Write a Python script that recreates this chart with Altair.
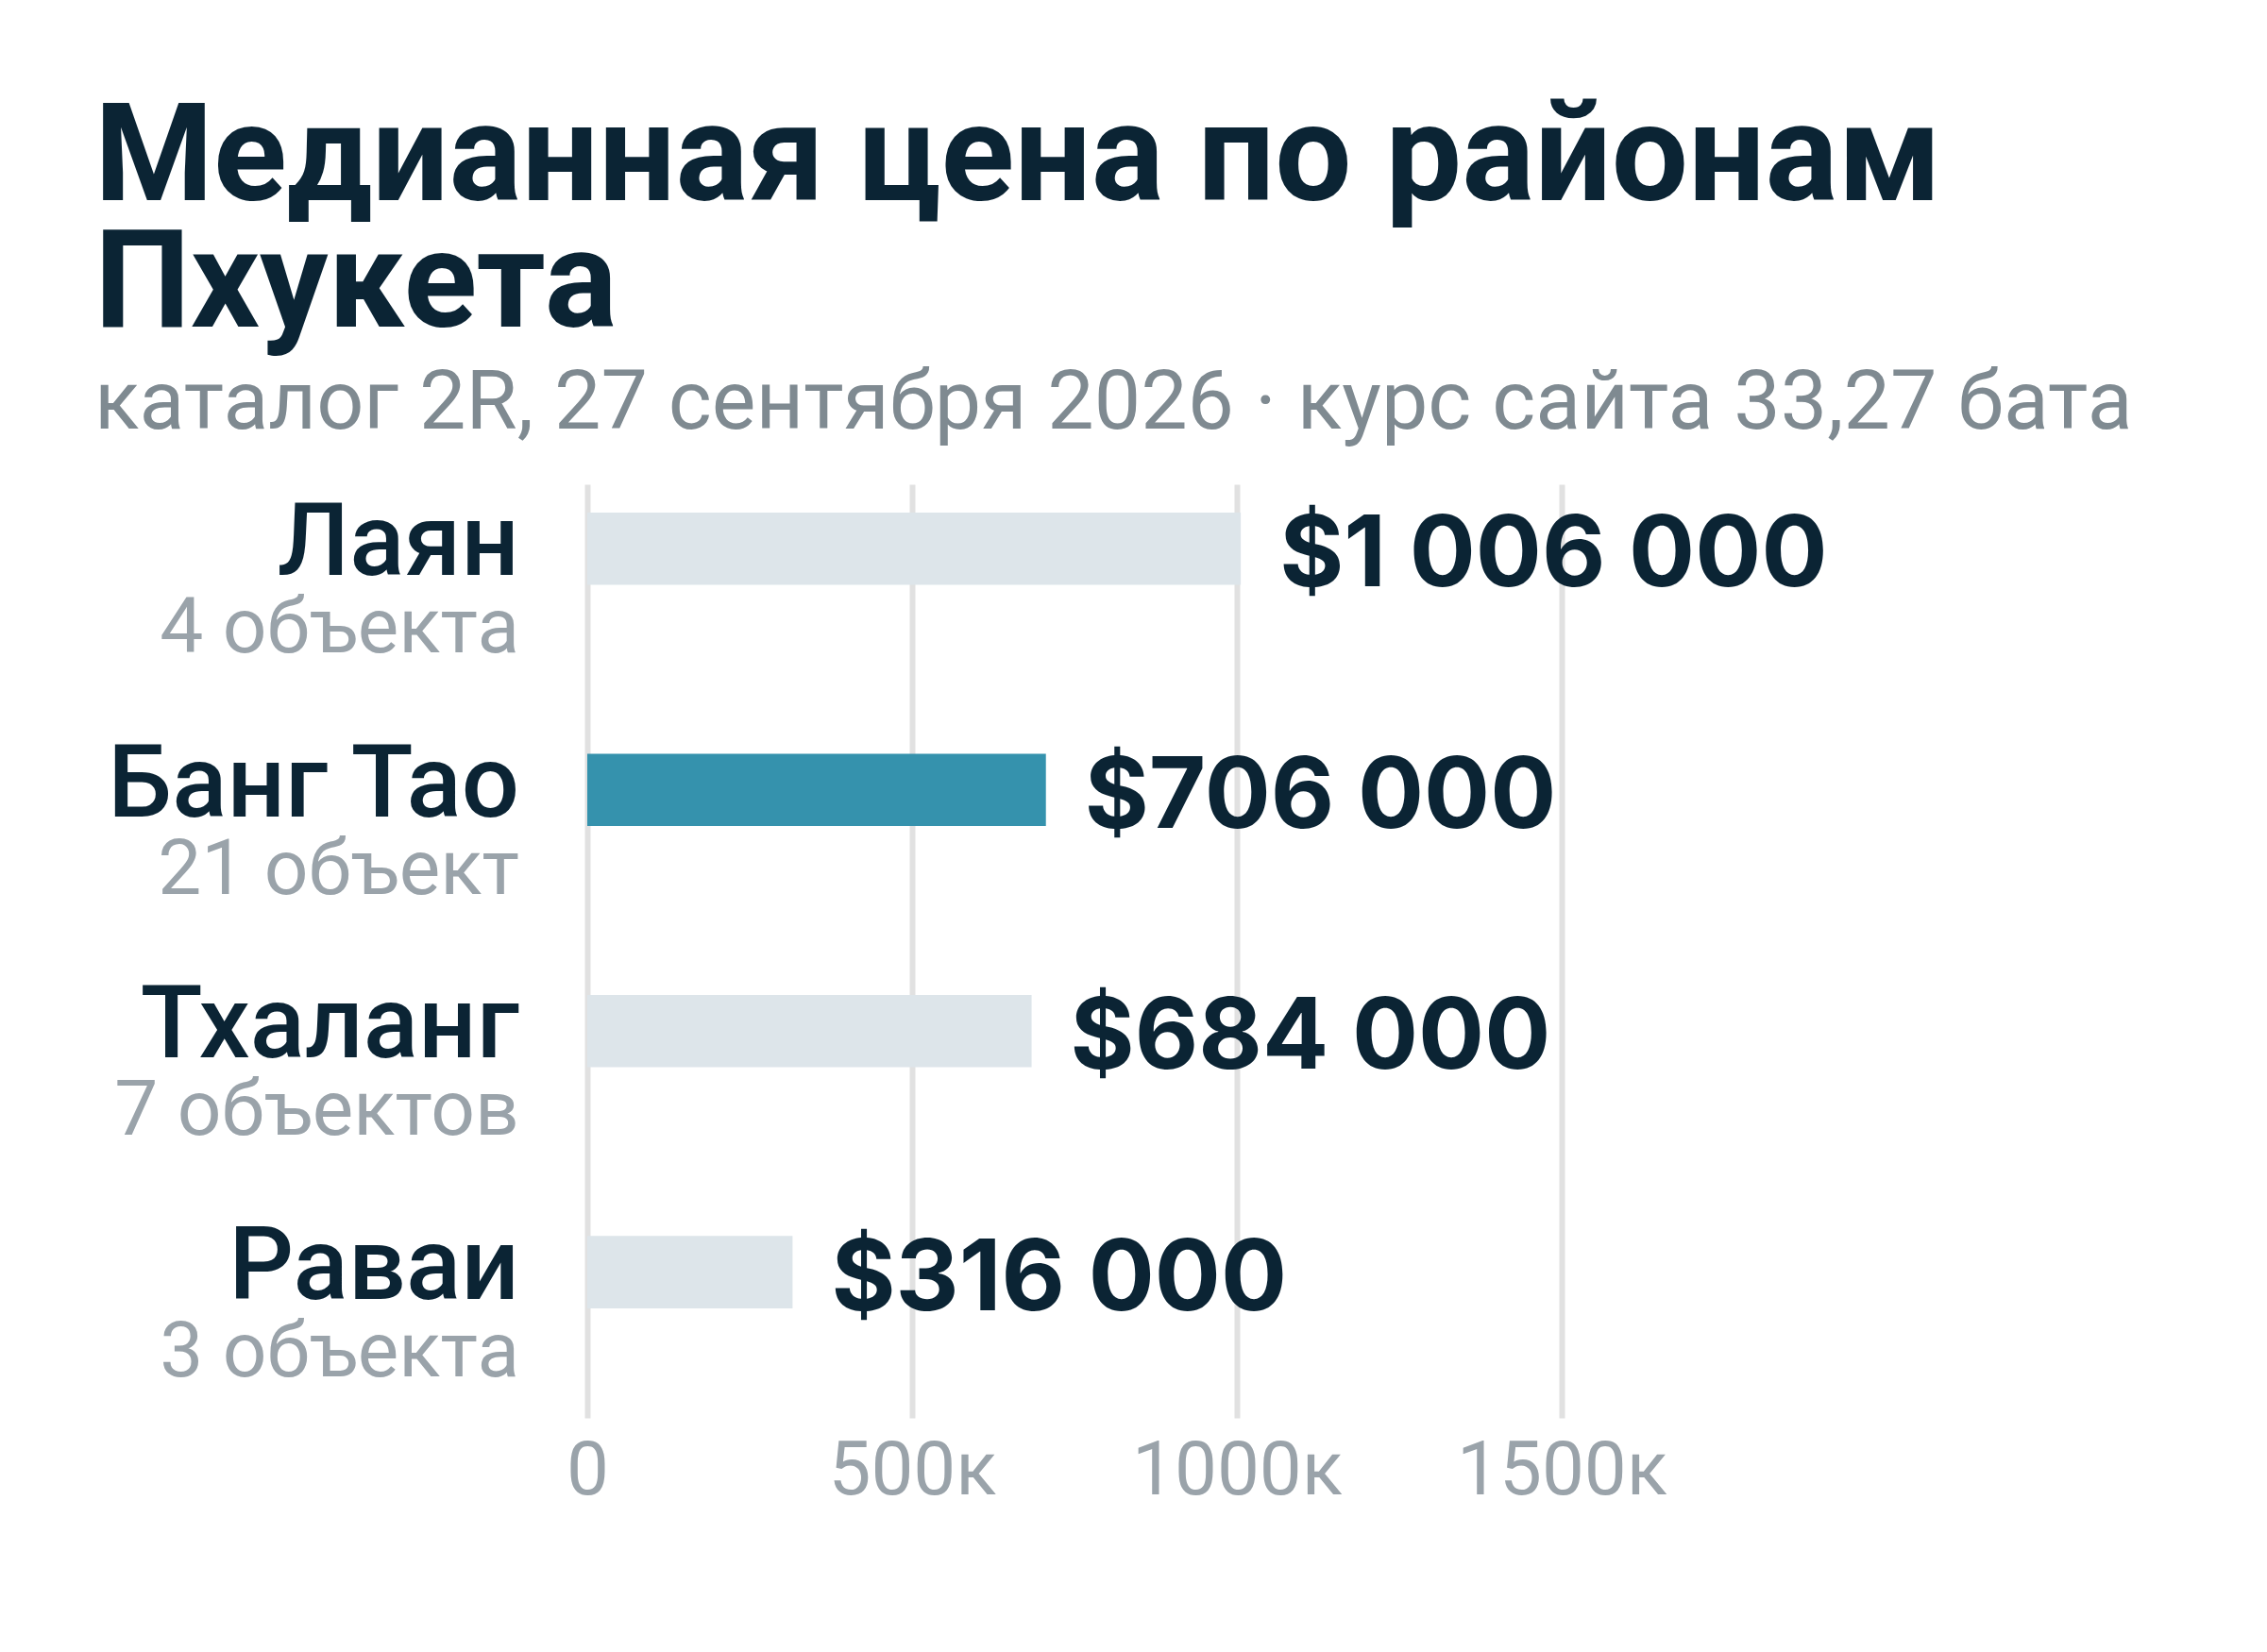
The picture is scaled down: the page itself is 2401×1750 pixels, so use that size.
import altair as alt
import pandas as pd

# --- data ---
districts = ["Лаян", "Банг Тао", "Тхаланг", "Раваи"]
prices = [1006000, 706000, 684000, 316000]
counts = ["4 объекта", "21 объект", "7 объектов", "3 объекта"]
kinds = ["base", "highlight", "base", "base"]
tick_values = [0, 500000, 1000000, 1500000]


def money(v):
    s = f"{v:,}".replace(",", " ")
    return "$" + s


df = pd.DataFrame({
    "district": districts,
    "price": prices,
    "count": counts,
    "kind": kinds,
    "label": [money(v) for v in prices],
})

DARK = "#0b2434"
GRAY_SUB = "#7f8a91"
GRAY_LIGHT = "#9aa3aa"

yenc = alt.Y(
    "district:N",
    sort=districts,
    axis=None,
    scale=alt.Scale(paddingInner=0.7, paddingOuter=0.2855, align=0.205),
)

xscale = alt.Scale(domain=[0, 2000000], nice=False)

base = alt.Chart(df).encode(y=yenc)

bars = base.mark_bar().encode(
    x=alt.X(
        "price:Q",
        scale=xscale,
        axis=alt.Axis(
            values=tick_values,
            labelExpr="datum.value == 0 ? '0' : format(datum.value / 1000, 'd') + 'к'",
            grid=True,
            gridColor="#e1e1e1",
            gridWidth=6,
            domain=False,
            ticks=False,
            labelFont="Roboto",
            labelFontSize=80,
            labelColor=GRAY_LIGHT,
            labelPadding=17,
            labelFlush=False,
            labelLimit=0,
            labelOverlap=False,
            title=None,
        ),
    ),
    color=alt.Color(
        "kind:N",
        scale=alt.Scale(domain=["base", "highlight"], range=["#dde5ea", "#3592ad"]),
        legend=None,
    ),
)

values = base.mark_text(
    align="left", baseline="alphabetic", dx=41, dy=40,
    font="Inter", fontWeight=700, fontSize=104, color=DARK,
).encode(x=alt.X("price:Q", scale=xscale), text="label:N")

names = base.mark_text(
    align="right", baseline="alphabetic", dx=-72, dy=28,
    font="Roboto", fontWeight=500, fontSize=108, color=DARK,
).encode(x=alt.datum(0, scale=xscale), text="district:N")

cnts = base.mark_text(
    align="right", baseline="alphabetic", dx=-72, dy=110,
    font="Roboto", fontWeight=400, fontSize=82, color=GRAY_LIGHT,
).encode(x=alt.datum(0, scale=xscale), text="count:N")

chart = alt.layer(bars, values, names, cnts).properties(
    width=1376,
    height=989,
    padding={"left": 614, "top": 505, "right": 300, "bottom": 200},
    autosize=alt.AutoSizeParams(type="none"),
    background="white",
    title=alt.TitleParams(
        text=["Медианная цена по районам", "Пхукета"],
        subtitle="каталог 2R, 27 сентября 2026 · курс сайта 33,27 бата",
        anchor="start",
        frame="group",
        dx=-522,
        font="Roboto",
        fontWeight=700,
        fontSize=144,
        lineHeight=134,
        color=DARK,
        subtitleFont="Roboto",
        subtitleFontWeight=400,
        subtitleFontSize=88,
        subtitleColor=GRAY_SUB,
        subtitlePadding=8,
        offset=40,
    ),
).configure_view(stroke=None, strokeWidth=0)

chart.save("out.html", embed_options={"renderer": "svg", "actions": False})
